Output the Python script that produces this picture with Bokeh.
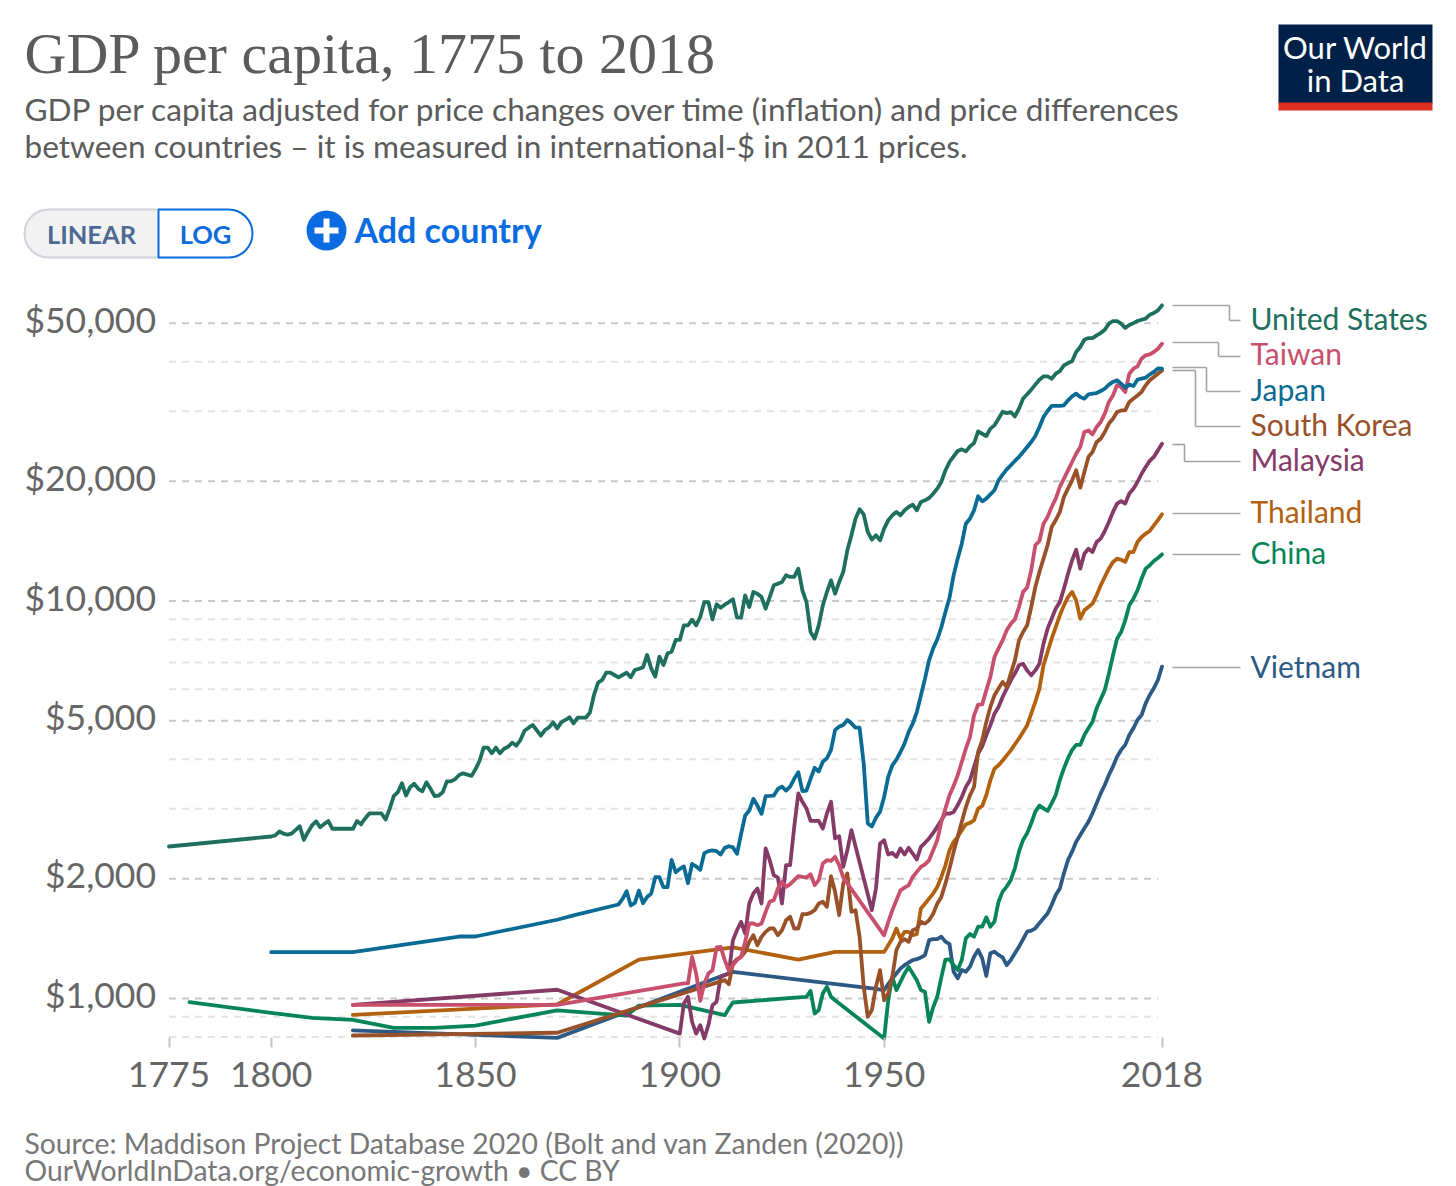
from bokeh.plotting import figure
from bokeh.embed import file_html
from bokeh.resources import INLINE
from bokeh.models import (Range1d, FixedTicker, Label, Arrow, BoxAnnotation, NumeralTickFormatter, LogScale)

us_years = [1775] + list(range(1800, 2019))
us_values = [2412,
 2556,2571,2631,2600,2585,2600,2657,2713,2507,2620,
 2725,2790,2697,2750,2795,2673,2673,2673,2673,2673,
 2673,2795,2744,2838,2921,2921,2921,2921,2820,3000,
 3230,3304,3480,3240,3400,3470,3368,3320,3500,3368,
 3230,3240,3304,3517,3517,3560,3650,3685,3658,3630,
 3771,3965,4277,4277,4138,4277,4138,4250,4300,4400,
 4326,4470,4718,4800,4876,4730,4584,4736,4810,4952,
 4783,4952,5020,5098,4923,5087,5087,5087,5237,5802,
 6231,6328,6603,6603,6514,6426,6514,6603,6426,6706,
 6750,6810,7316,6770,6452,7244,6902,7387,7458,7980,
 7980,8685,8685,8974,8685,9115,9940,9940,8992,9809,
 9620,9790,9940,10100,9080,9080,10335,9658,10534,10433,
 10234,9565,10234,10949,11054,11163,11604,11494,11494,12057,
 10637,9940,8356,8040,8685,9752,10534,11271,10433,11163,
 11830,13413,14632,16110,17010,16520,14916,14266,14632,14210,
 15205,15960,16425,16747,16425,16910,17240,17473,16910,17750,
 17920,18160,18620,19170,19930,21300,22370,23120,23840,24070,
 23790,24480,24960,26710,26350,26000,27140,27660,28750,29940,
 29700,29880,29140,30470,32290,33110,34020,35020,36040,36740,
 36740,36250,37310,37890,39150,39690,40080,42300,43540,45430,
 45870,45870,46580,47220,48130,49840,50620,50620,49840,48600,
 49450,50020,50620,51010,51300,52500,53020,53850,55430]

japan_years = [1800,1820,1846,1850,1870,1874,1885] + list(range(1886, 2019))
japan_values = [1308,1308,1432,1432,1578,1618,1724,
 1780,1862,1714,1740,
 1868,1737,1800,1836,2020,2019,1906,1906,2232,2078,
 2119,2148,1950,2182,2148,2108,2321,2348,2357,2348,
 2302,2393,2416,2400,2312,2596,2886,2971,3179,3058,
 2914,3228,3233,3240,3367,3413,3335,3413,3570,3710,
 3323,3335,3570,3805,3724,3943,4022,4221,4736,4830,
 4876,5020,4923,4800,4800,3900,2756,2709,2850,2950,
 3213,3610,3860,3990,4170,4376,4685,4914,5255,5790,
 6376,7094,7600,8000,8590,9385,10190,11600,12780,13940,
 15650,16110,16910,18340,17810,18090,18540,18990,20120,20790,
 21440,21950,22510,23040,23710,24400,25120,26000,27400,29030,
 30060,30950,30950,30950,31070,31980,32710,33230,32590,32290,
 33110,33230,33350,33740,34200,35020,35570,35910,35210,34400,
 35020,34740,36040,36250,36460,37170,37680,38480,38400]

taiwan_years = [1820,1870,1901,1902] + list(range(1903, 1941)) + list(range(1950, 2019))
taiwan_values = [964,964,1091,1091,
 1273,1156,987,1091,1156,1178,1344,
 1349,1249,1174,1213,1249,1273,1389,1544,1544,1529,
 1544,1652,1751,1768,1891,1966,1909,1939,1985,2031,
 2023,2015,2055,1928,1985,2186,2228,2220,2272,2165,
 2015,
 1442,1557,1666,1766,1871,1901,1926,2022,2082,2143,
 2176,2227,2360,2500,2780,3003,3245,3424,3644,3936,
 4251,4547,5156,5488,5495,5966,6440,7231,7600,7962,
 8436,8768,8992,9660,10540,10810,11950,13810,14160,15650,
 16280,17240,18090,19360,20310,21320,22370,23470,24400,26610,
 26860,26260,27400,28200,29600,31680,32900,34880,34540,33550,
 37310,38400,38930,40700,41500,41740,42300,43130,44390]

korea_years = [1820,1870] + list(range(1911, 2019))
korea_values = [807,820,
 1112,1086,1225,1256,1273,1310,1389,1443,1362,
 1429,1471,1500,1500,1443,1485,1574,1605,1500,1500,
 1630,1630,1642,1668,1734,1751,1701,2031,1855,1621,
 1947,2063,1652,1668,1429,1070,899,935,1070,1178,
 990,1029,1134,1323,1389,1410,1389,1485,1500,1559,
 1543,1574,1634,1732,1801,1945,2122,2337,2549,2780,
 3032,3245,3405,4170,4460,4960,5413,5790,6021,6258,
 6079,6567,7090,7962,8355,8684,9660,10845,11825,12780,
 13810,15350,15980,16750,18270,19170,20120,21320,19280,21100,
 23040,23710,25120,25610,26610,27950,28750,29880,30160,30160,
 31680,32290,32900,33550,34880,35910,36600,37310,38020]

malaysia_years = [1820,1870] + list(range(1900, 1943)) + list(range(1947, 2019))
malaysia_values = [964,1052,
 816,971,1010,874,816,857,793,857,962,981,
 1134,1145,1156,1402,1485,1559,1457,1734,1837,1891,
 1734,2385,2228,2043,2015,1734,2165,2165,2703,3279,
 3125,3006,2799,2799,2799,2677,2920,3125,2527,2561,
 2144,2361,2651,
 1668,1891,2455,
 2502,2303,2325,2272,2385,2303,2393,2316,2237,2406,
 2464,2527,2611,2703,2810,2920,2917,2946,3061,3213,
 3405,3539,3820,4132,4310,4592,4866,5205,5413,5735,
 6020,6317,6567,6890,6956,6690,6500,6690,6956,7810,
 8520,9030,9570,9935,10740,11710,12660,13460,12060,13150,
 13540,13280,14070,14350,15000,15800,16750,17580,17840,17580,
 18640,19170,19920,20900,21730,22510,23040,23930,24850]

thailand_years = [1820,1870,1890,1913,1929,1938] + list(range(1950, 2019))
thailand_values = [910,966,1253,1345,1253,1310,
 1310,1362,1416,1500,1416,1471,1471,1443,1451,1684,
 1732,1783,1836,1908,2022,2163,2360,2477,2549,2649,
 2744,2765,2808,3003,3050,3245,3539,3785,3860,3971,
 4090,4210,4360,4510,4685,4866,5205,5572,6021,6890,
 7440,8040,8600,9205,9750,10230,10540,10030,9030,9475,
 9660,9850,10340,10950,11490,12060,12540,12780,12700,12540,
 13280,13280,14070,14490,14770,15000,15500,15980,16530]

china_years = [1780,1800,1810,1820,1830,1840,1850,1870,1887,1890,1900,1911,1912,1913,1929,1931,
               1932,1933,1934,1935,1936,1937,1938] + list(range(1950, 2019))
china_values = [979,920,894,884,844,844,855,933,906,960,964,908,944,977,1006,1010,
 1045,917,935,1029,1070,1010,990,
 793,990,1134,1050,1101,1156,1201,1156,1112,1050,
 1039,874,950,1010,1130,1253,1255,1214,1180,1250,
 1417,1453,1431,1516,1516,1600,1516,1561,1752,1857,
 1912,1987,2126,2341,2505,2605,2759,2951,3056,3009,
 2963,3097,3250,3545,3793,4022,4221,4346,4346,4603,
 4783,4971,5371,5661,5973,6567,7300,8040,8355,8937,
 9750,10130,10640,11380,12060,12300,12610,12830,13100]

vietnam_years = [1820,1870,1913,1947,1950] + list(range(1951, 2019))
vietnam_values = [831,796,1167,1060,1050,
 1087,1123,1156,1190,1213,1232,1249,1256,1268,
 1285,1402,1410,1410,1431,1390,1371,1168,1124,1180,
 1168,1202,1274,1325,1262,1140,1300,1312,1287,1269,
 1214,1250,1300,1350,1409,1473,1481,1502,1547,1591,
 1637,1719,1821,1892,2065,2231,2341,2480,2578,2680,
 2784,2924,3097,3281,3445,3649,3831,4059,4221,4346,
 4603,4783,5020,5166,5527,5802,6029,6328,6838]

series_names = ["United States","Taiwan","Japan","South Korea","Malaysia","Thailand","China","Vietnam"]
x_ticks = [1775,1800,1850,1900,1950,2018]
y_major = [1000,2000,5000,10000,20000,50000]
y_minor = [800,900,3000,4000,6000,7000,8000,9000,30000,40000]

colors = {"United States":"#1f6f5f","Taiwan":"#c8506c","Japan":"#0a6c94","South Korea":"#99512a",
          "Malaysia":"#853b68","Thailand":"#b2610f","China":"#078558","Vietnam":"#2c5a85"}
data = {"United States":(us_years,us_values),"Taiwan":(taiwan_years,taiwan_values),
        "Japan":(japan_years,japan_values),"South Korea":(korea_years,korea_values),
        "Malaysia":(malaysia_years,malaysia_values),"Thailand":(thailand_years,thailand_values),
        "China":(china_years,china_values),"Vietnam":(vietnam_years,vietnam_values)}

FONT = "Lato"
W, H = 1456, 1186
PX_YEAR = (1161.5 - 168.5) / 243
PX_DEC = 397.5
x_start = 1775 - 168.5 / PX_YEAR
x_end = 2018 + (W - 1161.5) / PX_YEAR
y_start = 10 ** (3 - (H - 998) / PX_DEC)
y_end = 10 ** (3 + 998 / PX_DEC)
AXIS_Y = 10 ** (3 - 44 / PX_DEC)
LABEL_SHIFT = 10 ** (-4 / PX_DEC)   # tick labels sit 4px above their gridlines

p = figure(width=W, height=H, output_backend="svg", toolbar_location=None,
           x_range=Range1d(x_start, x_end), y_range=Range1d(y_start, y_end), y_axis_type="log",
           min_border=0, outline_line_color=None, background_fill_color="white", border_fill_color="white")
p.extra_y_ranges = {"ticklabels": Range1d(y_start * LABEL_SHIFT, y_end * LABEL_SHIFT)}
p.extra_y_scales = {"ticklabels": LogScale()}

xa = p.xaxis[0]
xa.fixed_location = AXIS_Y
xa.ticker = FixedTicker(ticks=x_ticks)
xa.axis_line_color = None
xa.major_tick_line_color = "#c4c4c4"
xa.major_tick_line_width = 2
xa.major_tick_in = 5
xa.major_tick_out = 5
xa.minor_tick_line_color = None
xa.major_label_text_font = FONT
xa.major_label_text_font_size = "35.5px"
xa.major_label_text_color = "#666666"
xa.major_label_standoff = 14

ya = p.yaxis[0]
ya.y_range_name = "ticklabels"
ya.fixed_location = 1775
ya.ticker = FixedTicker(ticks=y_major)
ya.formatter = NumeralTickFormatter(format="$0,0")
ya.axis_line_color = None
ya.major_tick_line_color = None
ya.minor_tick_line_color = None
ya.major_label_text_font = FONT
ya.major_label_text_font_size = "35.5px"
ya.major_label_text_color = "#666666"
ya.major_label_standoff = 7

p.xgrid.visible = False
p.ygrid.visible = False
p.segment(x0=[1775]*len(y_minor), x1=[2017]*len(y_minor), y0=y_minor, y1=y_minor,
          line_color="#e4e4e4", line_width=2, line_dash="7 6")
p.segment(x0=[1775]*len(y_major), x1=[2017]*len(y_major), y0=y_major, y1=y_major,
          line_color="#c9c9c9", line_width=2, line_dash="7 6")

for name in ["Vietnam","China","Thailand","Malaysia","South Korea","Taiwan","Japan","United States"]:
    xs, ys = data[name]
    p.line(xs, ys, line_color=colors[name], line_width=3.8, line_join="round", line_cap="round")

def sx(px): return px
def sy(py): return H - py

def label(px, py, text, size, color, font=FONT, style="normal", align="left"):
    p.add_layout(Label(x=sx(px), y=sy(py), x_units="screen", y_units="screen", text=text,
                       text_font=font, text_font_size=f"{size}px", text_color=color,
                       text_font_style=style, text_align=align, text_baseline="middle"))

def box(l, r, t, b, fill, border=None, bw=0, radius=0):
    bx = BoxAnnotation(left=sx(l), right=sx(r), top=sy(t), bottom=sy(b),
                       left_units="screen", right_units="screen", top_units="screen", bottom_units="screen",
                       fill_color=fill, fill_alpha=1, line_color=border, line_width=bw, line_alpha=1 if border else 0,
                       border_radius=radius, level="annotation")
    p.add_layout(bx)

def segs(pts, color="#a3a3a3", width=1.6):
    for (x0,y0),(x1,y1) in zip(pts[:-1], pts[1:]):
        p.add_layout(Arrow(x_start=sx(x0), y_start=sy(y0), x_end=sx(x1), y_end=sy(y1),
                           start_units="screen", end_units="screen", start=None, end=None,
                           line_color=color, line_width=width))

# heading
label(24, 53, "GDP per capita, 1775 to 2018", 58, "#5b5b5b", font="Liberation Serif")
label(24, 108, "GDP per capita adjusted for price changes over time (inflation) and price differences", 31.6, "#5b5b5b")
label(24, 145, "between countries \u2013 it is measured in international-$ in 2011 prices.", 31.6, "#5b5b5b")

# logo
box(1278, 1432, 24, 103, "#002147")
box(1278, 1432, 102, 110, "#dc2e1c")
label(1355, 46, "Our World", 31, "#ffffff", align="center")
label(1355, 79, "in Data", 31, "#ffffff", align="center")

# controls
box(24, 159, 209, 257, "#f2f2f2", "#ced4da", 2, dict(top_left=24, bottom_left=24, top_right=0, bottom_right=0))
box(158, 252, 209, 257, "#ffffff", "#0a6bdc", 2, dict(top_left=0, bottom_left=0, top_right=24, bottom_right=24))
label(91, 233, "LINEAR", 25.5, "#4c6a93", style="bold", align="center")
label(205, 233, "LOG", 25.5, "#0f6cd9", style="bold", align="center")
box(306, 346, 210, 250, "#0a6ce0", radius=20)
box(314, 338, 227, 233, "#ffffff")
box(323, 329, 218, 242, "#ffffff")
label(354, 229, "Add country", 34, "#0a6ce0", style="bold")

# line end labels and connectors
end_label_y = [317, 352, 388, 423, 458, 510, 551, 665]
for name, y in zip(series_names, end_label_y):
    label(1250, y, name, 30, colors[name])
segs([(1172,305),(1229,305),(1229,320),(1240,320)])
segs([(1172,342),(1218,342),(1218,356),(1240,356)])
segs([(1172,367),(1206,367),(1206,391),(1240,391)])
segs([(1172,370),(1195,370),(1195,426),(1240,426)])
segs([(1172,444),(1184,444),(1184,461),(1240,461)])
segs([(1172,513),(1240,513)])
segs([(1172,554),(1240,554)])
segs([(1172,667),(1240,667)])

# footer
label(24, 1142, "Source: Maddison Project Database 2020 (Bolt and van Zanden (2020))", 28.3, "#777777")
label(24, 1169, "OurWorldInData.org/economic-growth \u2022 CC BY", 28.3, "#777777")

open("out.html", "w").write(file_html(p, INLINE))
